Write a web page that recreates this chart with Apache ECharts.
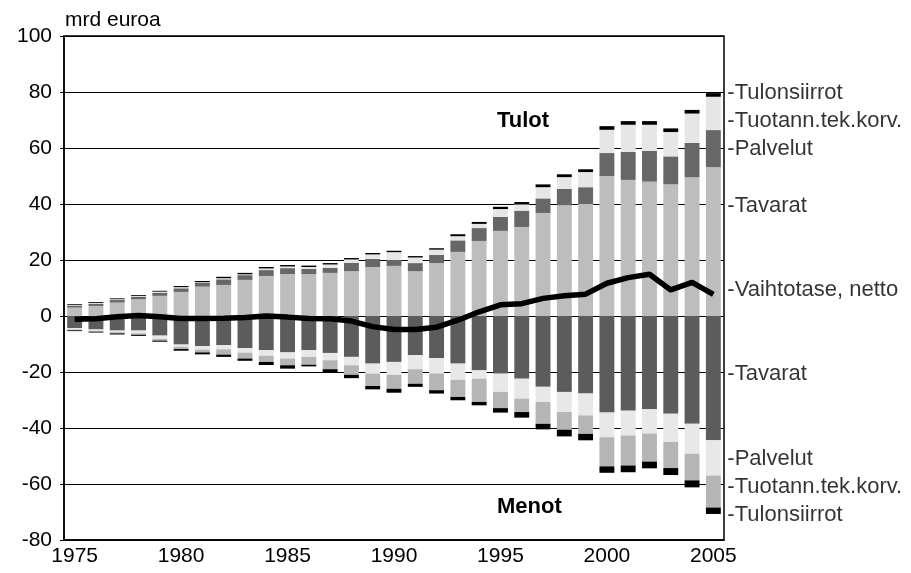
<!DOCTYPE html>
<html>
<head>
<meta charset="utf-8">
<script src="https://cdn.jsdelivr.net/npm/echarts@6/dist/echarts.min.js"></script>
<style>
  html, body { margin: 0; background: #fff; }
  #main { width: 911px; height: 573px; }
</style>
</head>
<body>
<div id="main"></div>
<script>
// vuodet 1975-2005
var years = []
for (var y = 1975; y <= 2005; y++) years.push(String(y))

// Tulot (mrd euroa)
var tulotTavarat = [3.0, 3.6, 4.8, 6.0, 7.2, 8.6, 10.5, 11.1, 12.9, 14.3, 15.0, 15.0, 15.4, 16.0, 17.5, 17.9, 16.0, 18.9, 22.9, 26.8, 30.4, 31.8, 36.8, 39.6, 40.0, 50.0, 48.6, 48.0, 47.0, 49.6, 53.2]
var tulotPalvelut = [0.7, 0.8, 0.9, 0.9, 1.1, 1.3, 1.4, 2.0, 1.7, 2.1, 2.1, 1.8, 1.8, 3.0, 2.9, 2.1, 2.9, 2.9, 4.1, 4.6, 5.0, 5.8, 5.2, 5.8, 6.0, 8.2, 10.0, 11.0, 10.0, 12.2, 13.2]
var tulotTuotann = [0.2, 0.3, 0.3, 0.3, 0.4, 0.4, 0.2, 0.4, 0.3, 0.6, 0.6, 0.7, 1.2, 1.2, 1.6, 2.8, 2.0, 1.9, 1.5, 1.5, 2.8, 2.3, 4.0, 4.2, 5.4, 8.3, 9.7, 9.3, 8.7, 10.5, 11.9]
var tulotSiirrot = [0.3, 0.3, 0.3, 0.3, 0.3, 0.4, 0.4, 0.5, 0.5, 0.5, 0.5, 0.5, 0.5, 0.5, 0.5, 0.5, 0.5, 0.5, 0.7, 0.7, 0.8, 0.8, 1.0, 1.0, 1.0, 1.3, 1.3, 1.3, 1.3, 1.3, 1.3]

// Menot (mrd euroa, negatiivisina)
var menotTavarat = [-4.3, -4.8, -5.2, -5.2, -7.0, -10.2, -10.8, -10.4, -11.5, -12.2, -13.0, -12.2, -13.2, -14.6, -17.0, -16.4, -14.0, -15.0, -17.0, -19.4, -20.6, -22.4, -25.3, -27.1, -27.7, -34.5, -33.8, -33.3, -34.9, -38.5, -44.4]
var menotPalvelut = [-0.5, -0.5, -0.6, -1.0, -1.2, -0.8, -1.2, -1.5, -1.6, -2.0, -2.2, -2.4, -2.6, -3.0, -3.6, -4.6, -5.0, -5.5, -5.8, -3.0, -6.5, -7.1, -5.4, -7.2, -7.8, -8.8, -8.9, -8.7, -10.1, -10.7, -12.6]
var menotTuotann = [-0.3, -0.3, -0.4, -0.5, -0.6, -0.8, -1.0, -1.9, -2.1, -2.2, -2.4, -2.8, -3.2, -3.4, -4.4, -5.0, -5.2, -6.0, -6.1, -8.3, -5.8, -4.8, -7.8, -6.3, -6.6, -10.4, -10.7, -10.0, -9.3, -9.5, -11.4]
var menotSiirrot = [-0.3, -0.3, -0.4, -0.4, -0.4, -0.6, -0.7, -0.8, -0.8, -1.1, -1.2, -0.6, -1.0, -1.2, -1.2, -1.4, -1.1, -1.2, -1.2, -1.2, -1.6, -2.0, -2.0, -2.4, -2.3, -2.3, -2.4, -2.4, -2.5, -2.5, -2.3]

// Vaihtotase, netto
var vaihtotase = [-1.2, -1.0, -0.3, 0.2, -0.3, -0.9, -0.9, -0.8, -0.5, 0.0, -0.4, -0.9, -1.0, -1.8, -3.8, -4.8, -4.8, -4.0, -1.5, 1.5, 4.0, 4.4, 6.3, 7.2, 7.8, 11.7, 13.7, 14.9, 9.3, 12.0, 7.7]

// selitteet oikealla reunalla
var sideNames = ['Tulonsiirrot', 'Tuotann.tek.korv.', 'Palvelut', 'Tavarat', 'Vaihtotase, netto', 'Tavarat', 'Palvelut', 'Tuotann.tek.korv.', 'Tulonsiirrot']
var sideValues = [79.6, 69.6, 59.6, 39.4, 9.4, -20.7, -51.1, -61.2, -71.2]

var font = "'Liberation Sans', Arial, sans-serif"

function bar (name, data, color) {
  return {
    name: name,
    type: 'bar',
    stack: 'a',
    data: data,
    barWidth: '70%',
    itemStyle: { color: color },
    z: 2
  }
}

var chart = echarts.init(document.getElementById('main'))
chart.setOption({
  animation: false,
  textStyle: { fontFamily: font },
  grid: {
    left: 64, right: 187, top: 36, bottom: 33,
    show: true, borderColor: '#000', borderWidth: 1.5
  },
  xAxis: {
    type: 'category',
    data: years,
    axisLine: { onZero: false, lineStyle: { color: '#000', width: 1.5 } },
    axisTick: { alignWithLabel: true, interval: 4, length: 7, lineStyle: { color: '#000' } },
    axisLabel: { interval: 4, color: '#000', fontSize: 21, margin: 6, fontFamily: font }
  },
  yAxis: {
    type: 'value',
    min: -80, max: 100, interval: 20,
    axisLine: { show: true, lineStyle: { color: '#000', width: 1.5 } },
    axisTick: { show: true, length: 4, lineStyle: { color: '#000' } },
    axisLabel: { color: '#000', fontSize: 21, margin: 12, fontFamily: font },
    splitLine: { lineStyle: { color: '#000', width: 1 } }
  },
  graphic: [
    { type: 'text', left: 65, top: 10, style: { text: 'mrd euroa', font: '21px ' + font, fill: '#000' } },
    { type: 'text', left: 497, top: 110, style: { text: 'Tulot', font: 'bold 22px ' + font, fill: '#000' } },
    { type: 'text', left: 497, top: 496, style: { text: 'Menot', font: 'bold 22px ' + font, fill: '#000' } }
  ],
  series: [
    bar('Tavarat', tulotTavarat, '#bdbdbd'),
    bar('Palvelut', tulotPalvelut, '#676767'),
    bar('Tuotann.tek.korv.', tulotTuotann, '#e6e6e6'),
    bar('Tulonsiirrot', tulotSiirrot, '#000'),
    bar('Tavarat (menot)', menotTavarat, '#5c5c5c'),
    bar('Palvelut (menot)', menotPalvelut, '#e8e8e8'),
    bar('Tuotann.tek.korv. (menot)', menotTuotann, '#b5b5b5'),
    bar('Tulonsiirrot (menot)', menotSiirrot, '#000'),
    {
      name: 'Vaihtotase, netto',
      type: 'line',
      data: vaihtotase,
      symbol: 'none',
      lineStyle: { color: '#000', width: 5.5 },
      z: 5
    },
    {
      type: 'scatter',
      symbolSize: 0,
      silent: true,
      data: sideValues.map(function (v, i) { return { value: ['2005', v], name: sideNames[i] } }),
      label: {
        show: true,
        position: 'right',
        distance: 14,
        formatter: function (p) { return '-' + p.name },
        color: '#000',
        fontSize: 22,
        fontFamily: font
      },
      z: 6
    }
  ]
})
</script>
</body>
</html>
